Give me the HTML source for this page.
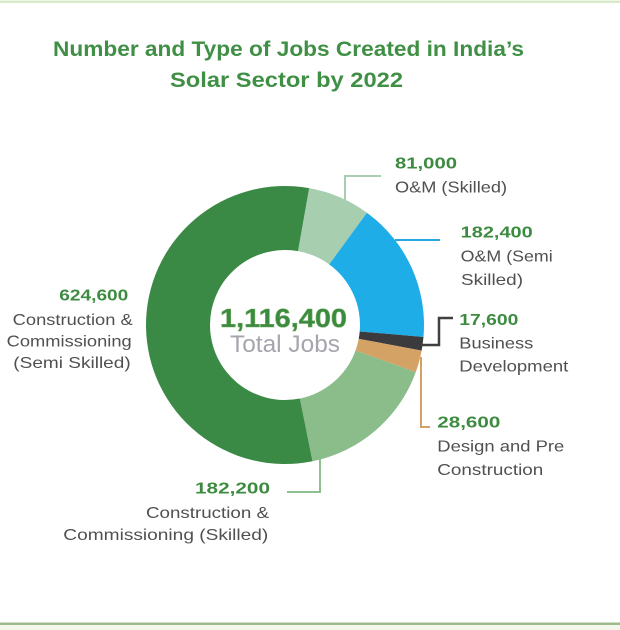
<!DOCTYPE html>
<html>
<head>
<meta charset="utf-8">
<style>
  html, body { margin:0; padding:0; background:#ffffff; }
  svg { display:block; }
  .num { font-family:"Liberation Sans", sans-serif; font-weight:bold; font-size:16px; fill:#3d8b40; }
  .lbl { font-family:"Liberation Sans", sans-serif; font-size:16px; fill:#505050; }
  .ttl { font-family:"Liberation Sans", sans-serif; font-weight:bold; font-size:21px; fill:#3f8f45; }
</style>
</head>
<body>
<svg width="620" height="630" viewBox="0 0 620 630" xmlns="http://www.w3.org/2000/svg">
  <rect x="0" y="0" width="620" height="630" fill="#ffffff"/>
  <rect x="0" y="0.5" width="620" height="2.5" fill="#d8eacb"/>
  <rect x="0" y="622.5" width="620" height="2.5" fill="#9cba8c"/>
  <rect x="0" y="625" width="620" height="5" fill="#f4f8ec"/>

  <!-- Title -->
  <text class="ttl" x="53" y="56" textLength="471" lengthAdjust="spacingAndGlyphs">Number and Type of Jobs Created in India’s</text>
  <text class="ttl" x="170" y="87" textLength="233" lengthAdjust="spacingAndGlyphs">Solar Sector by 2022</text>

  <!-- Donut -->
  <!-- O&M skilled -->
  <path d="M309.14,188.11 A139,139 0 0 1 366.94,212.72 L329.21,264.41 A75,75 0 0 0 298.02,251.14 Z" fill="#a8ceb0"/>
  <!-- O&M semi skilled -->
  <path d="M366.94,212.72 A139,139 0 0 1 423.48,336.97 L359.72,331.46 A75,75 0 0 0 329.21,264.41 Z" fill="#1fade8"/>
  <!-- Business development -->
  <path d="M423.48,336.97 A139,139 0 0 1 421.62,350.62 L358.72,338.82 A75,75 0 0 0 359.72,331.46 Z" fill="#3b3b3d"/>
  <!-- Design and pre construction -->
  <path d="M421.62,350.62 A139,139 0 0 1 415.75,372.17 L355.55,350.45 A75,75 0 0 0 358.72,338.82 Z" fill="#d4a264"/>
  <!-- C&C skilled -->
  <path d="M415.75,372.17 A139,139 0 0 1 312.50,461.25 L299.84,398.52 A75,75 0 0 0 355.55,350.45 Z" fill="#8bbd8b"/>
  <!-- C&C semi skilled -->
  <path d="M312.50,461.25 A139,139 0 1 1 309.14,188.11 L298.02,251.14 A75,75 0 1 0 299.84,398.52 Z" fill="#3a8a45"/>

  <!-- Center text -->
  <text x="220" y="327" textLength="127" lengthAdjust="spacingAndGlyphs" style="font-family:'Liberation Sans',sans-serif;font-weight:bold;font-size:26px;fill:#3a8a3f;stroke:#6ea85e;stroke-width:0.6;">1,116,400</text>
  <text x="230" y="352" textLength="110" lengthAdjust="spacingAndGlyphs" style="font-family:'Liberation Sans',sans-serif;font-size:24px;fill:#a5a5ae;">Total Jobs</text>

  <!-- Connectors -->
  <polyline points="345,201 345,176 381,176" fill="none" stroke="#a9cdb1" stroke-width="2"/>
  <line x1="395" y1="240" x2="440" y2="240" stroke="#27aae1" stroke-width="2"/>
  <polyline points="421,345 439,345 439,318 453,318" fill="none" stroke="#404040" stroke-width="2.5"/>
  <polyline points="421,357 421,427 430,427" fill="none" stroke="#d3a163" stroke-width="2"/>
  <polyline points="320,459 320,492 287,492" fill="none" stroke="#8dbf8f" stroke-width="2"/>

  <!-- Right labels -->
  <text class="num" x="395" y="168.3" textLength="62" lengthAdjust="spacingAndGlyphs">81,000</text>
  <text class="lbl" x="395" y="192.5" textLength="112" lengthAdjust="spacingAndGlyphs">O&amp;M (Skilled)</text>

  <text class="num" x="460.7" y="237.7" textLength="72" lengthAdjust="spacingAndGlyphs">182,400</text>
  <text class="lbl" x="460.7" y="261.5" textLength="92" lengthAdjust="spacingAndGlyphs">O&amp;M (Semi</text>
  <text class="lbl" x="461" y="285" textLength="62" lengthAdjust="spacingAndGlyphs">Skilled)</text>

  <text class="num" x="459.3" y="325" textLength="59" lengthAdjust="spacingAndGlyphs">17,600</text>
  <text class="lbl" x="459.3" y="348.3" textLength="74" lengthAdjust="spacingAndGlyphs">Business</text>
  <text class="lbl" x="459.3" y="371.5" textLength="109" lengthAdjust="spacingAndGlyphs">Development</text>

  <text class="num" x="437.3" y="427.7" textLength="63" lengthAdjust="spacingAndGlyphs">28,600</text>
  <text class="lbl" x="437.3" y="451.5" textLength="127" lengthAdjust="spacingAndGlyphs">Design and Pre</text>
  <text class="lbl" x="437.3" y="475" textLength="106" lengthAdjust="spacingAndGlyphs">Construction</text>

  <!-- Left labels -->
  <text class="num" x="59.3" y="300.5" textLength="69" lengthAdjust="spacingAndGlyphs">624,600</text>
  <text class="lbl" x="12.7" y="325" textLength="120" lengthAdjust="spacingAndGlyphs">Construction &amp;</text>
  <text class="lbl" x="6.7" y="346.5" textLength="125" lengthAdjust="spacingAndGlyphs">Commissioning</text>
  <text class="lbl" x="13.3" y="368" textLength="117.4" lengthAdjust="spacingAndGlyphs">(Semi Skilled)</text>

  <!-- Bottom labels -->
  <text class="num" x="195" y="493.3" textLength="75" lengthAdjust="spacingAndGlyphs">182,200</text>
  <text class="lbl" x="146" y="518" textLength="123" lengthAdjust="spacingAndGlyphs">Construction &amp;</text>
  <text class="lbl" x="63.3" y="540" textLength="205" lengthAdjust="spacingAndGlyphs">Commissioning (Skilled)</text>
</svg>
</body>
</html>
